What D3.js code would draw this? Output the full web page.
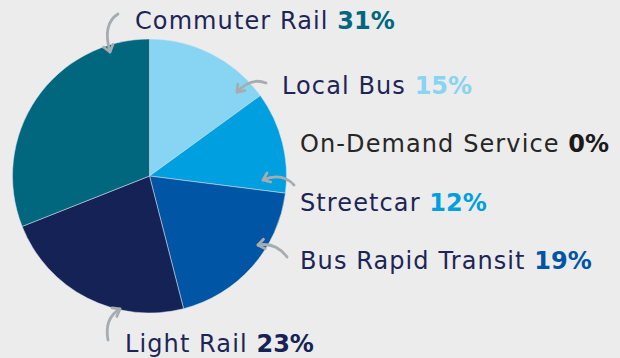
<!DOCTYPE html>
<html>
<head>
<meta charset="utf-8">
<script src="https://cdn.jsdelivr.net/npm/d3@7"></script>
<style>
  html, body { margin: 0; padding: 0; background: #ececec; }
  svg { display: block; }
  text { font-family: "DejaVu Sans", "Noto Sans", sans-serif; }
</style>
</head>
<body>
<svg id="chart" width="620" height="358"></svg>
<script>
// Mode share, clockwise from 12 o'clock
const modes    = ["Local Bus", "On-Demand Service", "Streetcar", "Bus Rapid Transit", "Light Rail", "Commuter Rail"];
const shares   = [15, 0, 12, 19, 23, 31];
const colors   = ["#87d4f3", "#1a1a1a", "#009fdf", "#0055a5", "#152256", "#00677f"];

// Label placement (x, baseline y) and callout arrows (tail, bend, tip)
const labelPos = [[282, 94], [300, 152], [300, 211], [300, 269], [125, 352], [135, 29]];
const arrows = [
  [[266, 83], [251, 77], [237, 92]],
  null,
  [[294, 185], [282, 172], [263, 180]],
  [[287, 257], [276, 242], [258, 245]],
  [[108, 340], [104, 318], [120, 309]],
  [[118, 14], [102, 24], [110, 52]]
];

const svg = d3.select("#chart");
const cx = 149.5, cy = 176, radius = 137;

const pie = d3.pie().sort(null).value(d => d)(shares);
const arc = d3.arc().innerRadius(0).outerRadius(radius);

svg.append("g")
  .attr("transform", `translate(${cx},${cy})`)
  .selectAll("path")
  .data(pie)
  .join("path")
  .attr("d", arc)
  .attr("fill", (d, i) => colors[i])
  .attr("stroke", "#dfe6ee")
  .attr("stroke-width", d => d.value > 0 ? 0.5 : 0);

// Labels: name in regular weight, share in bold coloured
const labels = svg.append("g");
modes.forEach((m, i) => {
  const t = labels.append("text")
    .attr("x", labelPos[i][0])
    .attr("y", labelPos[i][1])
    .attr("font-size", 24)
    .attr("letter-spacing", 1.1);
  t.append("tspan")
    .attr("font-weight", 400)
    .attr("fill", i === 1 ? "#262626" : "#1c2556")
    .text(m + " ");
  t.append("tspan")
    .attr("font-weight", 700)
    .attr("letter-spacing", 0)
    .attr("fill", colors[i])
    .text(shares[i] + "%");
});

// Callout arrows
const ag = svg.append("g")
  .attr("fill", "none")
  .attr("stroke", "#a6acb0")
  .attr("stroke-width", 2.8)
  .attr("stroke-linecap", "round")
  .attr("stroke-linejoin", "round");
arrows.forEach(a => {
  if (!a) return;
  const [t, c, p] = a;
  ag.append("path").attr("d", `M${t[0]},${t[1]} Q${c[0]},${c[1]} ${p[0]},${p[1]}`);
  const ang = Math.atan2(p[1] - c[1], p[0] - c[0]);
  const L = 8, spread = 0.65;
  const h1 = [p[0] - L * Math.cos(ang - spread), p[1] - L * Math.sin(ang - spread)];
  const h2 = [p[0] - L * Math.cos(ang + spread), p[1] - L * Math.sin(ang + spread)];
  ag.append("path").attr("d", `M${h1[0]},${h1[1]} L${p[0]},${p[1]} L${h2[0]},${h2[1]}`);
});
</script>
</body>
</html>
